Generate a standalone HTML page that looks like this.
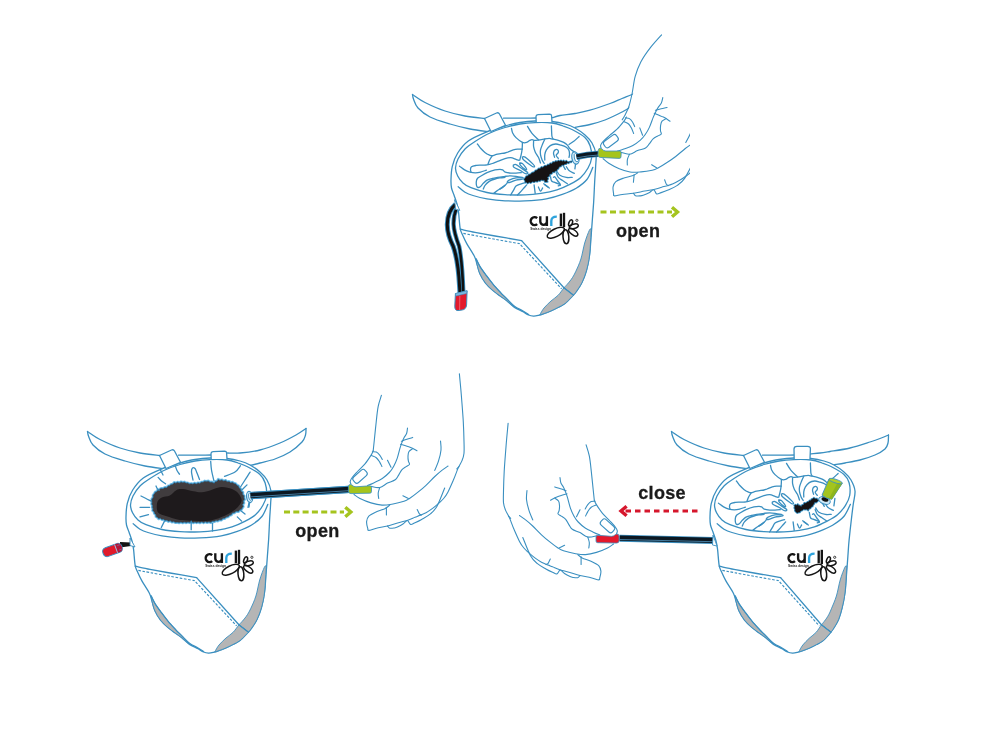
<!DOCTYPE html>
<html><head><meta charset="utf-8"><style>
*{margin:0;padding:0}
html,body{width:1000px;height:750px;background:#fff;overflow:hidden}
svg{display:block}
.l{fill:none;stroke:#3a8fc0;stroke-width:1.3;stroke-linecap:round;stroke-linejoin:round}
.lf{fill:#fff;stroke:#3a8fc0;stroke-width:1.3;stroke-linecap:round;stroke-linejoin:round}
.wf{fill:#fff;stroke:none}
.gp{fill:#b5b5b5;stroke:#3a8fc0;stroke-width:0.9;stroke-linejoin:round}
.hl .l, .hl, .l.hw{stroke-width:1.1}
.ld{fill:none;stroke:#3a8fc0;stroke-width:1.15;stroke-dasharray:2.6 1.6}
.logo{font-family:"Liberation Sans",sans-serif;font-size:14px;font-weight:bold;fill:#111;letter-spacing:-0.5px}
.sw{font-family:"Liberation Sans",sans-serif;font-size:3.3px;font-weight:bold;fill:#222}
.t{font-family:"Liberation Sans",sans-serif;font-size:18px;font-weight:bold;fill:#1a1a1a;letter-spacing:0.3px;stroke:#1a1a1a;stroke-width:0.3px}
svg{will-change:transform}

.blobg{fill:none;stroke:#7cc6ee;stroke-width:2.6;stroke-linejoin:round}
.blobo{fill:#403c3e;stroke:#2a7db0;stroke-width:0.8}
.blobi{fill:#1e1a1c;stroke:none}
.blobg2{fill:none;stroke:#7fc8ee;stroke-width:1.6;stroke-linejoin:round}
.blobk{fill:#161314;stroke:#1b6a9a;stroke-width:0.6;stroke-linejoin:miter}
</style></head><body>
<svg width="1000" height="750" viewBox="0 0 1000 750">
<defs>
<g id="belt"><path class="wf" d="M87.5,431.5 C89.6,432.8 94.6,436.8 100.0,439.5 C105.4,442.2 113.3,445.8 120.0,448.0 C126.7,450.2 133.4,451.8 140.0,453.0 C146.6,454.2 156.2,455.1 159.5,455.5 L165,469 165.0,469.0 C161.7,468.5 151.7,467.3 145.0,466.0 C138.3,464.7 131.7,463.0 125.0,461.0 C118.3,459.0 110.3,456.7 105.0,454.0 C99.7,451.3 95.8,448.0 93.0,445.0 C90.2,442.0 89.4,438.2 88.5,436.0 C87.6,433.8 87.7,432.2 87.5,431.5" />
<path class="l" d="M87.5,431.5 C89.6,432.8 94.6,436.8 100.0,439.5 C105.4,442.2 113.3,445.8 120.0,448.0 C126.7,450.2 133.4,451.8 140.0,453.0 C146.6,454.2 156.2,455.1 159.5,455.5" />
<path class="l" d="M87.5,431.5 C87.7,432.2 87.6,433.8 88.5,436.0 C89.4,438.2 90.2,442.0 93.0,445.0 C95.8,448.0 99.7,451.3 105.0,454.0 C110.3,456.7 118.3,459.0 125.0,461.0 C131.7,463.0 138.3,464.7 145.0,466.0 C151.7,467.3 161.7,468.5 165.0,469.0" />
<path class="l" d="M178.5,455.2 C181.2,455.2 189.6,455.2 195.0,455.2 C200.4,455.2 208.3,455.0 211.0,455.0" />
<rect x="165" y="452" width="60" height="8" fill="#fff"/>
<path class="l" d="M178.5,455.2 C181.2,455.2 189.6,455.2 195.0,455.2 C200.4,455.2 208.3,455.0 211.0,455.0" /></g>
<g id="body"><path class="lf" d="M126.5,525.0 C126.0,522.5 125.9,520.3 126.0,516.7 C126.1,513.1 126.2,507.8 127.3,503.3 C128.4,498.9 130.0,494.2 132.7,490.0 C135.4,485.8 138.6,481.4 143.3,478.0 C148.0,474.6 154.6,471.8 160.7,469.3 C166.8,466.8 174.3,464.6 180.0,463.0 C185.7,461.4 190.0,460.3 195.0,459.5 C200.0,458.7 204.7,458.2 210.0,458.0 C215.3,457.8 222.0,458.0 227.0,458.5 C232.0,459.0 236.2,459.9 240.0,461.0 C243.8,462.1 246.7,463.2 250.0,465.0 C253.3,466.8 257.2,469.5 260.0,472.0 C262.8,474.5 265.2,476.8 267.0,480.0 C268.8,483.2 270.4,487.0 271.0,491.0 C271.6,495.0 270.8,499.2 270.6,504.0 C270.4,508.8 269.9,514.0 269.6,520.0 C269.3,526.0 269.0,534.0 268.6,540.0 C268.2,546.0 267.8,550.7 267.4,556.0 C267.0,561.3 266.7,566.0 266.2,572.0 C265.7,578.0 265.4,586.1 264.6,592.0 C263.8,597.9 262.8,602.9 261.5,607.5 C260.2,612.1 258.6,616.1 257.0,619.5 C255.4,622.9 253.5,625.5 251.7,628.0 C249.9,630.5 248.2,632.3 246.3,634.4 C244.4,636.5 242.2,638.9 240.0,640.6 C237.8,642.3 235.3,643.3 233.0,644.5 C230.7,645.7 228.3,646.9 226.0,647.9 C223.7,648.9 221.1,649.9 219.0,650.6 C216.9,651.4 215.2,652.0 213.4,652.4 C211.7,652.8 210.1,653.2 208.5,653.1 C206.9,653.0 205.3,652.7 203.6,652.0 C201.8,651.3 200.3,650.1 198.0,648.8 C195.7,647.5 192.2,646.2 189.5,644.4 C186.8,642.6 184.3,639.8 182.0,637.9 C179.7,636.0 177.8,634.9 175.5,633.2 C173.2,631.5 170.5,629.8 168.0,627.6 C165.5,625.4 162.7,622.9 160.5,620.1 C158.3,617.3 156.3,613.9 154.9,610.8 C153.5,607.7 153.0,604.4 152.1,601.5 C151.2,598.6 151.2,596.9 149.5,593.5 C147.8,590.1 143.9,584.5 141.9,580.9 C139.9,577.3 138.7,574.5 137.6,572.0 C136.5,569.5 135.9,569.3 135.2,565.6 C134.5,561.9 134.1,553.7 133.6,549.6 C133.1,545.5 132.8,543.9 132.0,541.0 C131.2,538.1 129.9,534.7 129.0,532.0 C128.1,529.3 127.0,527.5 126.5,525.0Z" />
<path class="gp" d="M266.3,566.0 C266.0,570.3 265.4,585.1 264.6,592.0 C263.8,598.9 262.8,602.9 261.5,607.5 C260.2,612.1 258.6,616.1 257.0,619.5 C255.4,622.9 253.1,625.9 251.7,628.0 C250.3,630.1 249.0,631.5 248.5,632.2 L238.9,624.8 L238.9,624.8 C239.2,624.4 239.8,624.1 241.0,622.7 C242.2,621.3 244.7,618.6 246.3,616.3 C247.9,614.0 249.0,612.2 250.6,608.8 C252.2,605.4 254.4,600.8 255.9,596.0 C257.4,591.2 258.3,584.8 259.7,580.0 C261.1,575.2 263.3,569.5 264.4,567.2 C265.5,564.9 266.0,566.2 266.3,566.0Z" />
<path class="gp" d="M238.9,624.8 L248.5,632.2 L248.5,632.2 C248.1,632.6 247.7,633.0 246.3,634.4 C244.9,635.8 242.2,638.9 240.0,640.6 C237.8,642.3 235.3,643.3 233.0,644.5 C230.7,645.7 228.3,646.9 226.0,647.9 C223.7,648.9 220.9,650.0 219.0,650.6 C217.1,651.2 215.5,651.6 214.8,651.8 L214.8,651.8 C215.5,650.7 217.1,647.3 219.0,645.0 C220.9,642.7 223.7,640.1 226.0,638.0 C228.3,635.9 230.8,634.6 233.0,632.4 C235.2,630.2 237.9,626.1 238.9,624.8Z" />
<path class="gp" d="M151.2,595.9 C151.3,596.8 151.5,599.0 152.1,601.5 C152.7,604.0 153.5,607.7 154.9,610.8 C156.3,613.9 158.3,617.3 160.5,620.1 C162.7,622.9 165.5,625.4 168.0,627.6 C170.5,629.8 173.2,631.5 175.5,633.2 C177.8,634.9 179.7,636.0 182.0,637.9 C184.3,639.8 188.2,643.3 189.5,644.4 L189.5,644.4 C188.2,643.0 184.3,638.5 182.0,636.0 C179.7,633.5 177.8,632.0 175.5,629.5 C173.2,627.0 170.3,623.9 168.0,621.1 C165.7,618.3 163.7,615.7 161.5,612.7 C159.3,609.7 156.6,606.1 154.9,603.3 C153.2,600.5 151.8,597.1 151.2,595.9Z" />
<path class="l" d="M151.2,595.9 C151.8,597.1 153.2,600.5 154.9,603.3 C156.6,606.1 159.3,609.7 161.5,612.7 C163.7,615.7 165.7,618.3 168.0,621.1 C170.3,623.9 173.2,627.0 175.5,629.5 C177.8,632.0 179.7,633.7 182.0,636.0 C184.3,638.3 186.8,641.2 189.5,643.2 C192.2,645.2 195.7,646.6 198.0,648.0 C200.3,649.4 202.7,650.9 203.6,651.5" />
<path class="l" d="M238.9,624.8 L248.5,632.2" />
<path class="l" d="M135.2,566.2 C137.7,566.7 144.2,568.2 150.0,569.3 C155.8,570.4 162.2,571.6 170.0,573.0 C177.8,574.4 192.2,576.8 196.6,577.6" />
<path class="l" d="M196.6,577.6 L238.9,624.8" />
<path class="ld" d="M138.4,570.4 C140.3,570.8 144.7,571.6 150.0,572.6 C155.3,573.6 162.6,575.0 170.0,576.3 C177.4,577.6 190.3,579.9 194.4,580.6 L236.6,625.8" />
<path class="l" d="M130.5,505.0 C130.4,507.8 131.4,510.5 132.7,513.0 C133.9,515.5 135.8,517.9 138.0,519.9 C140.2,521.9 142.0,523.1 146.0,524.7 C150.0,526.3 156.3,528.3 162.0,529.5 C167.7,530.7 173.7,531.3 180.0,531.7 C186.3,532.1 194.0,532.0 200.0,531.8 C206.0,531.6 210.7,531.1 216.0,530.3 C221.3,529.5 227.2,528.3 232.0,526.8 C236.8,525.3 240.9,523.3 244.8,521.3 C248.7,519.3 252.5,517.4 255.5,514.7 C258.5,512.0 261.1,508.5 262.9,505.3 C264.7,502.1 266.1,499.3 266.5,495.5 C266.9,491.7 266.2,486.2 265.1,482.7 C264.0,479.1 262.6,476.8 259.7,474.2 C256.8,471.6 251.6,468.9 248.0,467.0 C244.4,465.1 241.5,464.2 238.0,463.0 C234.5,461.8 231.7,460.6 227.0,460.0 C222.3,459.4 215.3,459.4 210.0,459.6 C204.7,459.8 200.0,460.2 195.0,461.0 C190.0,461.8 185.0,463.0 180.0,464.5 C175.0,466.0 170.0,467.7 165.0,470.0 C160.0,472.3 154.2,475.8 150.0,478.5 C145.8,481.2 142.8,483.1 140.0,486.0 C137.2,488.9 134.6,492.8 133.0,496.0 C131.4,499.2 130.6,502.2 130.5,505.0Z" />
<path class="l" d="M133.2,523.7 C134.3,524.6 137.5,527.7 140.0,529.2 C142.5,530.7 144.3,531.4 148.0,532.5 C151.7,533.6 156.7,534.9 162.0,535.8 C167.3,536.7 173.7,537.5 180.0,537.8 C186.3,538.1 193.1,538.1 200.0,537.8 C206.9,537.5 215.1,536.9 221.3,535.8 C227.5,534.7 232.3,533.1 237.3,531.3 C242.3,529.5 247.1,527.7 251.2,525.2 C255.3,522.7 259.1,520.0 261.9,516.5 C264.7,513.0 266.8,506.4 267.8,504.4" /><g fill="none" stroke="#151515" stroke-width="2.35">
<path d="M212.2,555.1 A3.95,3.95 0 1 0 212.2,561.1"/>
<path d="M215.3,553.3 V558.6 A3.3,3.3 0 0 0 221.9,558.6 V553.3 M221.9,558.6 V563"/>
<path d="M226.3,563 V558 Q226.3,553.6 231.8,553.6" stroke="#2ea3dc"/>
<path d="M235.9,550.6 V563"/>
<path d="M239,549.8 V564"/>
</g>
<g fill="none" stroke="#151515" stroke-width="1.5">
<ellipse cx="230.8" cy="569.7" rx="9.5" ry="3.9" transform="rotate(-27 230.8 569.7)"/>
<ellipse cx="240.9" cy="573.8" rx="2.9" ry="7" transform="rotate(-5 240.9 573.8)"/>
<ellipse cx="248.2" cy="569.2" rx="5.4" ry="2.5" transform="rotate(38 248.2 569.2)"/>
<ellipse cx="248.8" cy="563.3" rx="4.6" ry="2.2" transform="rotate(-15 248.8 563.3)"/>
<ellipse cx="245.6" cy="560" rx="1.7" ry="3.3" transform="rotate(22 245.6 560)"/>
</g>
<circle cx="251.9" cy="557.3" r="1.1" fill="none" stroke="#151515" stroke-width="0.8"/>
<text x="205.2" y="567.3" class="sw">Swiss design</text></g>
<g id="body_br"><path class="lf" d="M126.5,525.0 C126.0,522.5 125.9,520.3 126.0,516.7 C126.1,513.1 126.2,507.8 127.3,503.3 C128.4,498.9 130.0,494.2 132.7,490.0 C135.4,485.8 138.6,481.4 143.3,478.0 C148.0,474.6 154.6,471.8 160.7,469.3 C166.8,466.8 174.3,464.6 180.0,463.0 C185.7,461.4 190.0,460.3 195.0,459.5 C200.0,458.7 204.7,458.2 210.0,458.0 C215.3,457.8 222.0,458.0 227.0,458.5 C232.0,459.0 236.2,459.9 240.0,461.0 C243.8,462.1 246.7,463.2 250.0,465.0 C253.3,466.8 257.2,469.5 260.0,472.0 C262.8,474.5 265.2,476.8 267.0,480.0 C268.8,483.2 270.6,487.0 271.0,491.0 C271.4,495.0 269.9,499.2 269.3,504.0 C268.6,508.8 268.0,514.0 267.3,520.0 C266.6,526.0 265.7,534.0 265.1,540.0 C264.5,546.0 264.3,550.7 263.9,556.0 C263.5,561.3 263.2,566.0 262.7,572.0 C262.2,578.0 261.9,586.1 261.1,592.0 C260.3,597.9 259.3,602.9 258.2,607.5 C257.1,612.1 255.9,616.1 254.6,619.5 C253.2,622.9 251.5,625.5 249.9,628.0 C248.3,630.5 246.8,632.3 245.1,634.4 C243.3,636.5 241.4,638.9 239.3,640.6 C237.2,642.3 234.9,643.3 232.6,644.5 C230.4,645.7 228.1,646.9 225.8,647.9 C223.5,648.9 221.0,649.9 218.9,650.6 C216.9,651.4 215.1,652.0 213.4,652.4 C211.7,652.8 210.1,653.2 208.5,653.1 C206.9,653.0 205.3,652.7 203.6,652.0 C201.8,651.3 200.3,650.1 198.0,648.8 C195.7,647.5 192.2,646.2 189.5,644.4 C186.8,642.6 184.3,639.8 182.0,637.9 C179.7,636.0 177.8,634.9 175.5,633.2 C173.2,631.5 170.5,629.8 168.0,627.6 C165.5,625.4 162.7,622.9 160.5,620.1 C158.3,617.3 156.3,613.9 154.9,610.8 C153.5,607.7 153.0,604.4 152.1,601.5 C151.2,598.6 151.2,596.9 149.5,593.5 C147.8,590.1 143.9,584.5 141.9,580.9 C139.9,577.3 138.7,574.5 137.6,572.0 C136.5,569.5 135.9,569.3 135.2,565.6 C134.5,561.9 134.1,553.7 133.6,549.6 C133.1,545.5 132.8,543.9 132.0,541.0 C131.2,538.1 129.9,534.7 129.0,532.0 C128.1,529.3 127.0,527.5 126.5,525.0Z" />
<path class="gp" d="M262.8,566.0 C262.5,570.3 261.9,585.1 261.1,592.0 C260.3,598.9 259.3,602.9 258.2,607.5 C257.1,612.1 255.9,616.1 254.6,619.5 C253.2,622.9 251.1,625.9 249.9,628.0 C248.6,630.1 247.5,631.5 247.0,632.2 L237.4,624.8 L237.4,624.8 C237.7,624.4 238.2,624.1 239.2,622.7 C240.3,621.3 242.5,618.6 243.8,616.3 C245.2,614.0 246.0,612.2 247.4,608.8 C248.8,605.4 250.9,600.8 252.4,596.0 C253.9,591.2 254.8,584.8 256.2,580.0 C257.6,575.2 259.8,569.5 260.9,567.2 C262.0,564.9 262.5,566.2 262.8,566.0Z" />
<path class="gp" d="M237.4,624.8 L247.0,632.2 L247.0,632.2 C246.7,632.6 246.3,633.0 245.1,634.4 C243.8,635.8 241.4,638.9 239.3,640.6 C237.2,642.3 234.9,643.3 232.6,644.5 C230.4,645.7 228.1,646.9 225.8,647.9 C223.5,648.9 220.8,650.0 218.9,650.6 C217.1,651.2 215.5,651.6 214.8,651.8 L214.8,651.8 C215.5,650.7 217.0,647.3 218.8,645.0 C220.6,642.7 223.3,640.1 225.5,638.0 C227.7,635.9 230.1,634.6 232.1,632.4 C234.0,630.2 236.5,626.1 237.4,624.8Z" />
<path class="gp" d="M151.2,595.9 C151.3,596.8 151.5,599.0 152.1,601.5 C152.7,604.0 153.5,607.7 154.9,610.8 C156.3,613.9 158.3,617.3 160.5,620.1 C162.7,622.9 165.5,625.4 168.0,627.6 C170.5,629.8 173.2,631.5 175.5,633.2 C177.8,634.9 179.7,636.0 182.0,637.9 C184.3,639.8 188.2,643.3 189.5,644.4 L189.5,644.4 C188.2,643.0 184.3,638.5 182.0,636.0 C179.7,633.5 177.8,632.0 175.5,629.5 C173.2,627.0 170.3,623.9 168.0,621.1 C165.7,618.3 163.7,615.7 161.5,612.7 C159.3,609.7 156.6,606.1 154.9,603.3 C153.2,600.5 151.8,597.1 151.2,595.9Z" />
<path class="l" d="M151.2,595.9 C151.8,597.1 153.2,600.5 154.9,603.3 C156.6,606.1 159.3,609.7 161.5,612.7 C163.7,615.7 165.7,618.3 168.0,621.1 C170.3,623.9 173.2,627.0 175.5,629.5 C177.8,632.0 179.7,633.7 182.0,636.0 C184.3,638.3 186.8,641.2 189.5,643.2 C192.2,645.2 195.7,646.6 198.0,648.0 C200.3,649.4 202.7,650.9 203.6,651.5" />
<path class="l" d="M237.4,624.8 L247.0,632.2" />
<path class="l" d="M135.2,566.2 C137.7,566.7 144.2,568.2 150.0,569.3 C155.8,570.4 162.2,571.6 170.0,573.0 C177.8,574.4 192.2,576.8 196.6,577.6" />
<path class="l" d="M196.6,577.6 L237.4,624.8" />
<path class="ld" d="M138.4,570.4 C140.3,570.8 144.7,571.6 150.0,572.6 C155.3,573.6 162.6,575.0 170.0,576.3 C177.4,577.6 190.3,579.9 194.4,580.6 L235.2,625.8" />
<path class="l" d="M130.5,505.0 C130.4,507.8 131.4,510.5 132.7,513.0 C133.9,515.5 135.8,517.9 138.0,519.9 C140.2,521.9 142.0,523.1 146.0,524.7 C150.0,526.3 156.3,528.3 162.0,529.5 C167.7,530.7 173.7,531.3 180.0,531.7 C186.3,532.1 194.1,532.0 200.0,531.8 C205.9,531.6 210.2,531.1 215.3,530.3 C220.3,529.5 225.8,528.3 230.4,526.8 C234.9,525.3 238.8,523.3 242.7,521.3 C246.6,519.3 250.4,517.4 253.5,514.7 C256.6,512.0 259.5,508.5 261.5,505.3 C263.5,502.1 265.1,499.3 265.7,495.5 C266.3,491.7 266.1,486.2 265.1,482.7 C264.1,479.1 262.6,476.8 259.7,474.2 C256.8,471.6 251.6,468.9 248.0,467.0 C244.4,465.1 241.5,464.2 238.0,463.0 C234.5,461.8 231.7,460.6 227.0,460.0 C222.3,459.4 215.3,459.4 210.0,459.6 C204.7,459.8 200.0,460.2 195.0,461.0 C190.0,461.8 185.0,463.0 180.0,464.5 C175.0,466.0 170.0,467.7 165.0,470.0 C160.0,472.3 154.2,475.8 150.0,478.5 C145.8,481.2 142.8,483.1 140.0,486.0 C137.2,488.9 134.6,492.8 133.0,496.0 C131.4,499.2 130.6,502.2 130.5,505.0Z" />
<path class="l" d="M133.2,523.7 C134.3,524.6 137.5,527.7 140.0,529.2 C142.5,530.7 144.3,531.4 148.0,532.5 C151.7,533.6 156.7,534.9 162.0,535.8 C167.3,536.7 173.7,537.5 180.0,537.8 C186.3,538.1 193.3,538.1 200.0,537.8 C206.7,537.5 214.3,536.9 220.1,535.8 C226.0,534.7 230.4,533.1 235.2,531.3 C239.9,529.5 244.5,527.7 248.6,525.2 C252.7,522.7 256.8,520.0 259.8,516.5 C262.8,513.0 265.3,506.4 266.4,504.4" /><g transform="translate(-1.2,0)"><g fill="none" stroke="#151515" stroke-width="2.35">
<path d="M212.2,555.1 A3.95,3.95 0 1 0 212.2,561.1"/>
<path d="M215.3,553.3 V558.6 A3.3,3.3 0 0 0 221.9,558.6 V553.3 M221.9,558.6 V563"/>
<path d="M226.3,563 V558 Q226.3,553.6 231.8,553.6" stroke="#2ea3dc"/>
<path d="M235.9,550.6 V563"/>
<path d="M239,549.8 V564"/>
</g>
<g fill="none" stroke="#151515" stroke-width="1.5">
<ellipse cx="230.8" cy="569.7" rx="9.5" ry="3.9" transform="rotate(-27 230.8 569.7)"/>
<ellipse cx="240.9" cy="573.8" rx="2.9" ry="7" transform="rotate(-5 240.9 573.8)"/>
<ellipse cx="248.2" cy="569.2" rx="5.4" ry="2.5" transform="rotate(38 248.2 569.2)"/>
<ellipse cx="248.8" cy="563.3" rx="4.6" ry="2.2" transform="rotate(-15 248.8 563.3)"/>
<ellipse cx="245.6" cy="560" rx="1.7" ry="3.3" transform="rotate(22 245.6 560)"/>
</g>
<circle cx="251.9" cy="557.3" r="1.1" fill="none" stroke="#151515" stroke-width="0.8"/>
<text x="205.2" y="567.3" class="sw">Swiss design</text></g></g>
<g id="loops"><path class="lf" d="M159.5,455.5 L171.5,450 Q173.5,449.2 174.5,451 L180.5,462.3 L166,468.5 Z" />
<path class="lf" d="M211.2,459 L211,453.5 Q211,451.8 213,451.6 L224.5,451.2 Q226.5,451.2 226.6,453 L227,459" /></g>
<g id="loops_br"><path class="lf" d="M159.5,455.5 L171.5,450 Q173.5,449.2 174.5,451 L180.5,462.3 L166,468.5 Z" />
<path class="lf" d="M210.2,459 L210,449 Q210,446.3 213,446.3 L223.5,446.3 Q226.5,446.3 226.4,449 L226,459" /></g>
<g id="rw_bl"><path class="wf" d="M227.5,453.0 C229.6,453.0 234.6,453.5 240.0,453.0 C245.4,452.5 253.3,451.7 260.0,450.0 C266.7,448.3 274.0,445.5 280.0,443.0 C286.0,440.5 291.7,437.4 296.0,435.0 C300.3,432.6 304.3,429.6 306.0,428.5 L306.0,428.5 C305.9,429.6 306.2,432.8 305.5,435.0 C304.8,437.2 304.6,439.2 302.0,442.0 C299.4,444.8 294.5,449.2 290.0,452.0 C285.5,454.8 280.0,457.2 275.0,459.0 C270.0,460.8 264.5,461.8 260.0,463.0 C255.5,464.2 250.0,465.5 248.0,466.0 L227.5,466.0Z" />
<path class="l" d="M227.5,453.0 C229.6,453.0 234.6,453.5 240.0,453.0 C245.4,452.5 253.3,451.7 260.0,450.0 C266.7,448.3 274.0,445.5 280.0,443.0 C286.0,440.5 291.7,437.4 296.0,435.0 C300.3,432.6 304.3,429.6 306.0,428.5" />
<path class="l" d="M306.0,428.5 C305.9,429.6 306.2,432.8 305.5,435.0 C304.8,437.2 304.6,439.2 302.0,442.0 C299.4,444.8 294.5,449.2 290.0,452.0 C285.5,454.8 280.0,457.2 275.0,459.0 C270.0,460.8 264.5,461.8 260.0,463.0 C255.5,464.2 250.0,465.5 248.0,466.0" /></g>
<g id="rw_br"><path class="wf" d="M226.0,454.0 C227.7,453.8 232.7,453.4 236.0,453.0 C239.3,452.6 241.0,452.3 246.0,451.5 C251.0,450.7 259.3,449.6 266.0,448.0 C272.7,446.4 281.0,443.6 286.0,442.0 C291.0,440.4 292.9,439.7 296.0,438.5 C299.1,437.3 303.1,435.6 304.5,435.0 L304.5,435.0 C304.4,436.3 304.6,440.7 304.0,443.0 C303.4,445.3 303.2,447.0 301.0,449.0 C298.8,451.0 295.2,453.2 291.0,455.0 C286.8,456.8 281.0,458.7 276.0,460.0 C271.0,461.3 265.3,462.2 261.0,463.0 C256.7,463.8 251.8,464.5 250.0,464.8 L226.0,466.0Z" />
<path class="l" d="M226.0,454.0 C227.7,453.8 232.7,453.4 236.0,453.0 C239.3,452.6 241.0,452.3 246.0,451.5 C251.0,450.7 259.3,449.6 266.0,448.0 C272.7,446.4 281.0,443.6 286.0,442.0 C291.0,440.4 292.9,439.7 296.0,438.5 C299.1,437.3 303.1,435.6 304.5,435.0" />
<path class="l" d="M304.5,435.0 C304.4,436.3 304.6,440.7 304.0,443.0 C303.4,445.3 303.2,447.0 301.0,449.0 C298.8,451.0 295.2,453.2 291.0,455.0 C286.8,456.8 281.0,458.7 276.0,460.0 C271.0,461.3 265.3,462.2 261.0,463.0 C256.7,463.8 251.8,464.5 250.0,464.8" /></g>
<g id="rw_top"><path class="wf" d="M227.5,454.7 C228.8,454.3 231.2,453.2 235.0,452.5 C238.8,451.8 245.0,451.4 250.0,450.5 C255.0,449.6 259.2,448.9 265.0,447.2 C270.8,445.5 279.7,442.4 285.0,440.5 C290.3,438.6 293.3,437.0 297.0,435.5 C300.7,434.0 304.0,432.9 307.0,431.5 C310.0,430.1 313.7,427.8 315.0,427.0 L315.0,427.0 C314.5,428.8 313.8,435.0 312.0,438.0 C310.2,441.0 307.2,442.8 304.0,445.0 C300.8,447.2 297.0,449.0 293.0,451.0 C289.0,453.0 284.7,455.2 280.0,457.0 C275.3,458.8 270.0,460.3 265.0,461.5 C260.0,462.7 252.5,463.8 250.0,464.3 L227.5,466.0Z" />
<path class="l" d="M227.5,454.7 C228.8,454.3 231.2,453.2 235.0,452.5 C238.8,451.8 245.0,451.4 250.0,450.5 C255.0,449.6 259.2,448.9 265.0,447.2 C270.8,445.5 279.7,442.4 285.0,440.5 C290.3,438.6 293.3,437.0 297.0,435.5 C300.7,434.0 304.0,432.9 307.0,431.5 C310.0,430.1 313.7,427.8 315.0,427.0" />
<path class="l" d="M315.0,427.0 C314.5,428.8 313.8,435.0 312.0,438.0 C310.2,441.0 307.2,442.8 304.0,445.0 C300.8,447.2 297.0,449.0 293.0,451.0 C289.0,453.0 284.7,455.2 280.0,457.0 C275.3,458.8 270.0,460.3 265.0,461.5 C260.0,462.7 252.5,463.8 250.0,464.3" /></g>
<g id="hand" class="hl"><path class="l" d="M373.2,450.8 C372.9,451.5 372.5,452.9 371.1,455.1 C369.7,457.3 367.2,461.2 365.0,463.8 C362.8,466.4 360.1,468.7 358.0,471.0 C355.9,473.3 353.5,475.8 352.2,477.5 C350.9,479.2 350.4,480.3 350.2,481.4 C350.0,482.5 350.8,483.6 350.9,484.0" />
<rect class="l" x="-7.8" y="-3.7" width="15.6" height="7.4" rx="2.6" transform="translate(360,476.3) rotate(-42)"/>
<path class="l" d="M372.4,451.7 C373.0,451.8 375.1,451.5 376.3,452.1 C377.5,452.7 378.7,453.9 379.7,455.1 C380.7,456.3 381.9,458.8 382.3,459.5" />
<path class="l" d="M371.5,455.6 C372.3,456.0 374.9,456.6 376.3,457.7 C377.7,458.8 378.8,460.7 379.7,462.1 C380.6,463.6 381.5,465.7 381.9,466.4" />
<path class="l" d="M387.5,460.3 L391.0,467.3" />
<path class="l" d="M367.6,485.5 C368.6,485.1 371.2,484.1 373.7,482.9 C376.1,481.7 379.7,480.2 382.3,478.5 C384.9,476.8 387.4,474.5 389.3,472.5 C391.2,470.5 392.3,468.7 393.6,466.4 C394.9,464.1 396.1,461.5 397.1,458.6 C398.1,455.7 399.0,451.6 399.7,449.1 C400.4,446.7 400.7,445.8 401.4,443.9 C402.1,442.0 403.1,439.5 404.0,437.8 C404.9,436.1 406.0,435.1 406.6,433.5 C407.2,431.9 407.4,428.9 407.5,428.0" />
<path class="l" d="M401.4,441.3 C402.2,441.0 404.1,440.1 406.0,439.5 C407.9,438.9 411.6,437.8 412.7,437.4" />
<path class="l" d="M400.5,444.3 C402.1,444.8 407.2,446.2 410.0,447.3 C412.8,448.4 415.8,450.2 417.0,450.8" />
<path class="l" d="M371.0,486.4 C372.5,486.6 377.1,488.1 379.8,487.5 C382.6,486.9 384.9,484.4 387.5,483.1 C390.1,481.8 393.4,481.1 395.2,479.8 C397.0,478.5 397.4,477.0 398.5,475.4 C399.6,473.8 400.5,471.4 401.8,469.9 C403.1,468.4 404.9,467.5 406.2,466.6 C407.5,465.7 409.1,465.3 409.5,464.4 C409.9,463.5 408.6,462.5 408.4,461.1 C408.1,459.7 407.9,457.6 408.0,456.0 C408.1,454.4 408.2,452.7 409.0,451.5 C409.8,450.3 412.1,449.1 412.7,448.6" />
<path class="l" d="M379.8,487.5 C379.5,488.4 378.4,491.2 378.2,493.0 C378.0,494.8 378.6,497.6 378.7,498.5" />
<path class="l" d="M354.0,494.5 C355.0,495.2 357.2,497.1 360.0,498.5 C362.8,499.9 367.3,501.8 371.0,502.9 C374.7,504.0 378.3,504.9 382.0,505.1 C385.7,505.3 389.3,504.6 393.0,504.0 C396.7,503.4 401.2,502.2 404.0,501.3 C406.8,500.4 407.1,500.1 409.5,498.5 C411.9,496.9 415.6,494.1 418.3,491.9 C421.1,489.7 423.2,487.9 426.0,485.3 C428.8,482.7 432.1,479.1 434.8,476.5 C437.6,473.9 440.3,471.6 442.5,469.9 C444.7,468.1 447.1,466.6 448.0,466.0" />
<path class="l" d="M402.9,495.8 L408.4,498.5" />
<path class="l" d="M440.5,441.0 C440.6,442.5 441.3,446.7 441.0,450.0 C440.7,453.3 439.7,457.2 438.6,460.6 C437.6,464.0 435.4,468.8 434.7,470.4" />
<path class="l" d="M459.4,373.9 C459.7,377.6 460.8,388.0 461.4,396.0 C462.0,404.0 462.9,414.4 463.3,422.0 C463.7,429.6 463.9,436.3 464.0,441.5 C464.1,446.7 464.3,450.0 464.0,453.2 C463.7,456.4 463.0,458.1 462.0,460.6 C461.0,463.1 459.4,465.2 458.0,468.4 C456.6,471.6 455.2,475.9 453.5,479.8 C451.8,483.7 449.6,488.8 448.0,491.9 C446.4,495.0 445.1,496.7 443.6,498.5 C442.1,500.3 441.0,501.2 439.2,502.9 C437.4,504.5 434.8,506.8 432.6,508.4 C430.4,510.0 428.2,511.6 426.0,512.8 C423.8,514.0 421.2,514.9 419.4,515.6 C417.6,516.3 416.8,516.5 415.0,517.2 C413.2,517.9 411.1,519.1 408.4,520.0 C405.6,520.9 402.0,521.7 398.5,522.7 C395.0,523.7 391.2,525.1 387.5,526.0 C383.8,526.9 379.6,527.5 376.5,528.2 C373.4,528.9 370.3,530.4 368.8,530.4 C367.3,530.4 368.1,529.7 367.7,528.2 C367.3,526.7 366.4,523.6 366.6,521.6 C366.8,519.6 367.2,517.8 368.8,516.1 C370.4,514.5 373.8,513.0 376.5,511.7 C379.2,510.4 383.1,509.5 385.3,508.4 C387.5,507.3 389.0,505.7 389.7,505.1" />
<path class="l" d="M386.4,507.3 L386.4,515.0" />
<path class="l" d="M387.5,526.0 C387.9,526.4 388.6,527.9 389.7,528.2 C390.8,528.5 392.7,528.2 394.0,528.0 C395.3,527.8 395.9,527.8 397.4,527.1 C398.9,526.4 401.4,525.1 403.0,524.0 C404.6,522.9 406.0,520.4 407.3,520.5 C408.6,520.6 409.3,524.0 410.6,524.4 C411.9,524.8 413.2,523.5 415.0,522.7 C416.8,521.9 419.0,520.9 421.6,519.4 C424.2,517.9 427.8,516.1 430.4,513.9 C433.0,511.7 434.6,510.5 437.0,506.2 C439.4,501.9 443.4,491.0 444.7,488.0" />
<path class="l" d="M417.2,509.5 C417.6,510.2 418.7,513.0 419.4,513.9 C420.1,514.8 421.2,514.8 421.6,515.0" />
<path class="l" d="M456.8,468.8 L459.0,466.6" /></g>
<path id="tog" d="M348.4,487 Q348.3,484.2 350.6,484.4 L352,485 Q353.5,486.8 356,486.8 L369.6,485.8 Q371.5,485.7 371.5,487.6 L371.5,491.6 Q371.5,493.2 369.8,493.2 L351,493.6 Q348.5,493.6 348.4,491 Z"/>
<clipPath id="topclip"><rect x="0" y="0" width="690" height="750"/></clipPath>
<g id="crumple"><path class="l" d="M477.4,144.0 C477.9,144.7 479.4,146.9 480.6,148.3 C481.9,149.7 483.4,151.3 484.9,152.5 C486.4,153.7 488.4,154.7 489.6,155.2 C490.8,155.7 491.0,155.9 492.3,155.7 C493.6,155.5 495.5,154.5 497.6,154.1 C499.7,153.7 503.3,153.3 505.0,153.0 C506.7,152.7 506.6,152.5 508.0,152.0 C509.4,151.5 511.7,150.4 513.3,149.9 C514.9,149.4 516.1,149.2 517.6,149.1 C519.1,149.0 521.6,149.1 522.4,149.1" />
<path class="l" d="M492.3,155.7 C491.9,156.4 490.3,158.6 489.6,160.0 C488.9,161.4 488.3,163.4 488.0,164.1" />
<path class="l" d="M459.5,166.2 C460.4,166.8 462.9,168.9 464.6,169.9 C466.3,170.9 468.1,171.6 469.9,172.1 C471.7,172.6 473.5,172.9 475.3,172.9 C477.1,172.9 478.8,172.6 480.6,172.1 C482.5,171.6 485.4,170.5 486.4,170.2" />
<path class="l" d="M471.0,172.1 C470.9,171.7 470.4,170.3 470.5,169.4 C470.6,168.5 470.5,167.4 471.5,166.7 C472.5,166.0 474.6,165.7 476.3,165.4 C478.0,165.1 479.9,165.2 481.7,165.1 C483.5,165.0 485.2,165.2 487.0,164.9 C488.8,164.6 490.5,164.1 492.3,163.5 C494.1,162.9 495.5,162.2 497.6,161.4 C499.7,160.6 502.8,159.2 505.0,158.6 C507.2,158.0 508.9,157.6 510.7,157.7 C512.5,157.8 514.7,158.9 516.0,159.3 C517.3,159.7 518.2,160.1 518.7,160.3" />
<path class="l" d="M521.3,172.6 C520.4,172.7 517.8,173.0 516.0,173.1 C514.2,173.2 512.5,173.3 510.7,173.1 C508.9,172.9 506.6,172.6 505.3,172.1 C504.0,171.6 503.6,170.3 502.7,169.9 C501.8,169.5 501.3,169.4 500.0,169.4 C498.7,169.4 497.2,169.4 495.0,169.9 C492.8,170.4 489.4,171.5 487.0,172.6 C484.6,173.7 482.2,175.3 480.6,176.3 C479.0,177.3 478.1,177.6 477.4,178.5 C476.7,179.4 476.4,180.5 476.3,181.7 C476.2,182.9 476.3,184.9 476.6,185.9 C476.9,186.9 477.2,187.4 477.9,187.5 C478.6,187.6 479.7,187.1 480.6,186.4 C481.5,185.7 482.2,184.4 483.3,183.3 C484.4,182.2 485.5,180.9 487.0,180.1 C488.5,179.3 490.5,178.9 492.3,178.5 C494.1,178.1 495.4,177.8 497.6,177.4 C499.8,177.0 503.1,176.6 505.3,176.3 C507.5,176.0 508.9,175.8 510.7,175.8 C512.5,175.8 514.0,176.0 516.0,176.3 C518.0,176.6 521.3,177.2 522.4,177.4" />
<path class="l" d="M483.3,189.1 C483.6,188.4 484.3,186.2 485.4,184.9 C486.4,183.6 488.0,182.1 489.6,181.1 C491.2,180.1 493.2,179.5 495.0,179.0 C496.8,178.5 498.6,178.2 500.3,177.9 C502.0,177.6 504.2,177.5 505.0,177.4" />
<path class="l" d="M511.5,128.5 C511.7,129.3 512.0,131.8 512.8,133.3 C513.5,134.8 514.4,136.1 516.0,137.6 C517.6,139.1 520.6,141.6 522.4,142.4 C524.2,143.2 525.5,142.8 526.7,142.4 C528.0,142.1 529.0,140.8 529.9,140.3 C530.8,139.9 531.3,139.7 532.0,139.7 C532.7,139.7 533.0,140.2 534.1,140.3 C535.2,140.4 536.6,140.2 538.4,140.0 C540.2,139.8 543.0,139.2 544.8,138.9 C546.6,138.6 547.9,138.4 549.3,138.4 C550.7,138.4 551.5,138.9 553.0,139.2 C554.5,139.5 556.5,139.8 558.3,140.3 C560.1,140.8 562.2,141.6 563.7,142.4 C565.2,143.2 566.4,144.1 567.4,145.1 C568.4,146.1 568.6,147.3 569.5,148.3 C570.4,149.3 571.8,150.3 572.7,150.9 C573.6,151.5 574.5,151.8 574.9,152.0" />
<path class="l" d="M527.5,126.4 C528.2,127.6 530.2,131.1 532.0,133.3 C533.8,135.5 537.3,138.6 538.4,139.7" />
<path class="l" d="M522.4,142.4 C522.4,143.6 522.3,147.4 522.1,149.3 C521.9,151.2 521.7,152.3 521.3,154.1 C520.9,155.9 520.0,159.3 519.7,160.3" />
<path class="l" d="M533.6,140.8 C533.6,141.8 533.3,144.8 533.6,146.7 C533.9,148.6 534.4,150.2 535.2,152.0 C536.0,153.8 537.5,155.5 538.4,157.3 C539.3,159.1 540.1,162.1 540.5,163.0" />
<path class="l" d="M544.8,139.2 C544.4,140.0 543.3,142.2 542.6,144.0 C541.9,145.8 540.9,148.1 540.5,149.9 C540.1,151.7 540.2,152.9 540.5,154.6 C540.8,156.3 541.5,158.5 542.1,160.0 C542.7,161.5 543.9,162.9 544.2,163.5" />
<path class="l" d="M544.8,160.0 C544.8,159.1 544.5,156.3 544.8,154.6 C545.1,152.9 545.5,151.4 546.4,149.9 C547.3,148.4 548.8,146.6 550.3,145.6 C551.8,144.6 553.9,144.1 555.7,144.0 C557.5,143.9 559.2,144.6 561.0,145.1 C562.8,145.6 565.0,146.3 566.3,147.2 C567.6,148.1 568.5,149.2 569.0,150.4 C569.5,151.6 569.5,153.4 569.5,154.6 C569.5,155.8 569.1,156.9 569.0,157.3" />
<path class="l" d="M554.6,157.3 C554.4,156.6 553.4,154.2 553.5,153.0 C553.6,151.8 554.4,150.4 555.1,149.9 C555.8,149.4 557.3,149.5 557.8,149.9 C558.3,150.3 558.6,151.6 558.3,152.5 C558.0,153.4 556.2,154.2 556.2,155.2 C556.2,156.2 557.9,157.9 558.3,158.4" />
<path class="l" d="M551.4,125.9 C551.5,127.6 551.6,133.9 551.9,136.0 C552.2,138.1 552.8,138.2 553.0,138.7" />
<path class="l" d="M579.1,136.5 C578.2,137.3 575.5,140.0 573.8,141.3 C572.1,142.6 569.8,144.0 569.0,144.5" />
<path class="l" d="M513.3,165.1 C513.8,165.0 514.5,164.0 516.0,164.6 C517.5,165.2 520.4,167.6 522.4,168.9 C524.4,170.2 527.2,171.8 527.7,172.6 C528.2,173.4 526.8,174.0 525.6,173.7 C524.4,173.3 522.2,171.6 520.3,170.5 C518.3,169.4 515.1,168.2 513.9,167.3 C512.7,166.4 513.4,165.5 513.3,165.1" />
<path class="l" d="M519.7,163.0 C520.2,163.1 521.4,162.8 522.4,163.5 C523.4,164.2 524.9,166.3 525.6,167.3 C526.3,168.3 526.8,169.1 526.7,169.4 C526.6,169.8 526.1,170.1 525.0,169.4 C523.9,168.7 521.2,166.2 520.3,165.1 C519.4,164.0 519.8,163.3 519.7,163.0" />
<path class="l" d="M522.4,157.1 C522.9,157.1 523.3,155.9 525.1,157.1 C526.9,158.3 531.4,162.5 533.0,164.1 C534.6,165.7 534.8,166.3 534.6,166.7 C534.4,167.0 533.9,167.3 532.0,166.2 C530.1,165.0 525.1,161.3 523.5,159.8 C521.9,158.3 522.6,157.6 522.4,157.1" />
<path class="l" d="M507.5,181.7 C507.8,181.4 507.7,180.7 509.1,180.1 C510.5,179.5 513.7,178.3 516.0,177.9 C518.3,177.5 521.6,177.7 522.9,177.9 C524.1,178.1 524.6,178.6 523.5,179.0 C522.4,179.4 518.1,179.6 516.0,180.1 C513.9,180.6 512.0,181.8 510.7,182.2 C509.4,182.6 508.5,182.8 508.0,182.7 C507.5,182.6 507.6,181.9 507.5,181.7" />
<path class="l" d="M500.0,189.1 C500.6,188.7 502.6,187.4 503.7,186.4 C504.8,185.4 506.3,184.1 506.9,183.3 C507.5,182.5 507.4,182.0 507.5,181.7" />
<path class="l" d="M510.7,195.0 C511.2,194.1 513.0,191.1 513.9,189.6 C514.8,188.1 514.8,186.9 516.0,185.9 C517.2,184.9 519.7,184.3 521.3,183.8 C522.9,183.3 524.9,182.9 525.6,182.7" />
<path class="l" d="M517.6,195.0 C518.5,194.0 521.4,190.8 522.9,189.1 C524.4,187.4 526.1,185.6 526.7,184.9" />
<path class="l" d="M534.1,184.9 L535.2,193.4" />
<path class="l" d="M538.4,187.0 C538.8,187.7 539.8,191.0 540.5,191.2 C541.2,191.4 542.2,188.5 542.6,188.0" />
<path class="l" d="M543.7,183.8 L548.0,187.0" />
<path class="l" d="M562.6,164.6 L565.3,169.4" />
<path class="l" d="M566.3,166.7 C566.8,167.3 567.7,169.4 569.0,170.5 C570.3,171.6 573.4,172.9 574.3,173.4" />
<path class="l" d="M556.7,171.0 C557.2,171.7 558.3,174.2 559.9,175.3 C561.5,176.4 564.2,177.1 566.3,177.4 C568.3,177.8 571.2,177.4 572.2,177.4" />
<path class="l" d="M556.2,172.6 C556.6,173.4 557.2,176.1 558.3,177.4 C559.4,178.7 561.1,179.5 562.6,180.6 C564.1,181.7 566.6,183.3 567.4,183.8" />
<path class="l" d="M553.5,177.4 C553.8,177.3 554.2,176.3 555.0,177.0 C555.8,177.7 557.4,180.4 558.3,181.7 C559.2,183.0 560.5,184.2 560.5,184.9 C560.5,185.6 558.7,185.7 558.3,185.9" />
<path class="l" d="M545.0,184.9 L549.3,188.0" />
<path class="l" d="M550.3,175.3 C550.5,176.2 550.8,179.4 551.4,180.6 C552.0,181.8 552.7,181.6 554.1,182.2 C555.5,182.8 558.9,184.0 559.9,184.3" />
<path class="l" d="M575.9,161.4 L574.9,168.9" />
<path class="l" d="M505.0,185.4 C504.0,186.1 500.8,188.2 499.0,189.5 C497.2,190.8 494.8,192.4 494.0,193.0" /></g>
</defs>
<use href="#rw_bl"/><use href="#belt"/>
<use href="#body"/>
<use href="#loops"/>
<path class="blobg" d="M151.6,501.0 L151.7,499.0 L153.1,497.3 L153.0,495.2 L154.2,493.8 L155.1,492.1 L156.8,491.5 L157.7,489.9 L159.3,489.4 L161.0,488.3 L163.0,488.4 L164.8,487.3 L166.9,487.4 L168.0,485.8 L169.8,485.6 L171.0,484.2 L172.9,484.0 L174.1,482.3 L175.9,483.0 L177.5,482.0 L179.3,482.8 L181.0,481.7 L182.5,482.3 L184.5,481.9 L186.0,482.9 L187.8,482.8 L189.4,483.8 L191.2,483.4 L192.9,483.9 L194.6,483.0 L196.4,483.7 L198.0,482.7 L199.9,483.2 L201.3,482.0 L203.1,482.0 L204.7,480.9 L206.2,481.2 L208.4,480.9 L210.0,482.1 L212.1,481.9 L214.2,483.1 L215.1,481.4 L217.1,481.1 L218.2,479.2 L219.9,480.2 L221.9,479.7 L223.7,480.8 L225.7,480.2 L227.2,481.6 L229.1,481.2 L230.5,482.5 L232.4,482.1 L233.8,483.1 L235.7,483.5 L236.8,485.1 L238.6,485.7 L239.2,487.7 L240.8,488.9 L241.1,491.0 L243.0,492.2 L242.8,494.3 L244.3,495.8 L244.2,497.6 L244.7,499.5 L243.5,501.1 L244.0,503.1 L242.7,504.6 L243.4,506.6 L242.4,507.9 L241.5,509.6 L239.6,510.2 L238.5,511.8 L236.1,511.5 L234.4,512.9 L232.3,513.2 L231.5,514.9 L229.7,515.4 L228.3,516.9 L226.3,517.2 L224.9,518.6 L222.9,518.8 L221.3,520.2 L219.5,520.1 L217.8,521.1 L215.9,520.8 L214.3,521.8 L212.4,521.5 L210.7,522.7 L208.9,522.0 L207.1,522.7 L205.3,521.9 L203.6,522.9 L201.8,521.9 L200.0,523.0 L198.3,522.2 L196.6,522.9 L194.9,522.2 L193.1,523.0 L191.4,521.9 L189.7,522.8 L188.0,522.2 L186.2,522.9 L184.4,522.3 L182.7,523.0 L180.9,522.2 L179.1,523.0 L177.4,522.5 L175.5,522.8 L173.8,521.8 L171.9,522.2 L170.3,520.9 L168.4,521.6 L166.9,520.5 L165.0,520.8 L163.7,519.5 L161.8,519.7 L160.5,518.4 L158.6,518.9 L157.7,517.7 L155.9,516.7 L155.8,514.8 L154.3,513.6 L154.0,511.8 L152.5,510.6 L152.9,508.8 L152.1,507.3 L152.4,505.6 L151.5,504.1 L151.9,502.4Z" />
<path class="blobo" d="M151.6,501.0 L151.7,499.0 L153.1,497.3 L153.0,495.2 L154.2,493.8 L155.1,492.1 L156.8,491.5 L157.7,489.9 L159.3,489.4 L161.0,488.3 L163.0,488.4 L164.8,487.3 L166.9,487.4 L168.0,485.8 L169.8,485.6 L171.0,484.2 L172.9,484.0 L174.1,482.3 L175.9,483.0 L177.5,482.0 L179.3,482.8 L181.0,481.7 L182.5,482.3 L184.5,481.9 L186.0,482.9 L187.8,482.8 L189.4,483.8 L191.2,483.4 L192.9,483.9 L194.6,483.0 L196.4,483.7 L198.0,482.7 L199.9,483.2 L201.3,482.0 L203.1,482.0 L204.7,480.9 L206.2,481.2 L208.4,480.9 L210.0,482.1 L212.1,481.9 L214.2,483.1 L215.1,481.4 L217.1,481.1 L218.2,479.2 L219.9,480.2 L221.9,479.7 L223.7,480.8 L225.7,480.2 L227.2,481.6 L229.1,481.2 L230.5,482.5 L232.4,482.1 L233.8,483.1 L235.7,483.5 L236.8,485.1 L238.6,485.7 L239.2,487.7 L240.8,488.9 L241.1,491.0 L243.0,492.2 L242.8,494.3 L244.3,495.8 L244.2,497.6 L244.7,499.5 L243.5,501.1 L244.0,503.1 L242.7,504.6 L243.4,506.6 L242.4,507.9 L241.5,509.6 L239.6,510.2 L238.5,511.8 L236.1,511.5 L234.4,512.9 L232.3,513.2 L231.5,514.9 L229.7,515.4 L228.3,516.9 L226.3,517.2 L224.9,518.6 L222.9,518.8 L221.3,520.2 L219.5,520.1 L217.8,521.1 L215.9,520.8 L214.3,521.8 L212.4,521.5 L210.7,522.7 L208.9,522.0 L207.1,522.7 L205.3,521.9 L203.6,522.9 L201.8,521.9 L200.0,523.0 L198.3,522.2 L196.6,522.9 L194.9,522.2 L193.1,523.0 L191.4,521.9 L189.7,522.8 L188.0,522.2 L186.2,522.9 L184.4,522.3 L182.7,523.0 L180.9,522.2 L179.1,523.0 L177.4,522.5 L175.5,522.8 L173.8,521.8 L171.9,522.2 L170.3,520.9 L168.4,521.6 L166.9,520.5 L165.0,520.8 L163.7,519.5 L161.8,519.7 L160.5,518.4 L158.6,518.9 L157.7,517.7 L155.9,516.7 L155.8,514.8 L154.3,513.6 L154.0,511.8 L152.5,510.6 L152.9,508.8 L152.1,507.3 L152.4,505.6 L151.5,504.1 L151.9,502.4Z" />
<path class="blobi" d="M157.1,503.0 C157.6,500.5 159.2,498.9 161.3,497.7 C163.4,496.4 167.4,496.8 169.9,495.5 C172.4,494.2 174.2,491.3 176.3,490.2 C178.4,489.1 179.9,488.9 182.7,489.1 C185.5,489.3 190.1,490.8 193.3,491.3 C196.5,491.8 199.0,492.5 201.9,492.3 C204.8,492.1 207.5,491.1 210.7,490.2 C213.9,489.3 217.8,487.2 221.3,487.0 C224.9,486.8 229.2,488.0 232.0,489.1 C234.8,490.2 236.8,491.6 238.4,493.4 C240.0,495.2 241.4,497.9 241.6,499.8 C241.8,501.8 240.6,503.5 239.5,505.1 C238.4,506.7 237.3,507.8 235.2,509.4 C233.1,511.0 229.9,513.1 226.7,514.7 C223.5,516.3 219.6,517.9 216.0,519.0 C212.4,520.1 210.0,520.9 205.3,521.1 C200.6,521.4 192.7,520.8 188.0,520.5 C183.3,520.2 180.9,520.2 177.3,519.5 C173.8,518.8 169.9,517.4 166.7,516.3 C163.5,515.1 159.7,514.8 158.1,512.6 C156.5,510.4 156.6,505.5 157.1,503.0Z" />
<path class="l" d="M158.1,477.4 C158.6,477.9 159.8,479.4 161.0,480.5 C162.2,481.6 164.8,483.2 165.6,483.8" />
<path class="l" d="M156.0,486.0 C156.2,486.5 157.0,488.3 157.5,489.0 C158.0,489.7 158.9,490.0 159.2,490.2" />
<path class="l" d="M141.0,496.0 C141.8,496.4 144.4,497.7 146.0,498.5 C147.6,499.3 149.9,500.5 150.7,500.9" />
<path class="l" d="M140.0,507.3 L149.6,507.3" />
<path class="l" d="M140.0,516.9 L148.5,514.7" />
<path class="l" d="M164.5,521.1 L161.3,527.5" />
<path class="l" d="M191.2,521.1 L191.2,529.7" />
<path class="l" d="M212.5,523.3 L212.5,531.0" />
<path class="l" d="M210.7,461.4 C210.8,462.8 211.0,466.8 211.5,470.0 C212.0,473.2 213.5,478.8 213.9,480.6" />
<path class="l" d="M240.5,465.7 C239.6,466.8 237.7,470.2 235.0,472.0 C232.3,473.8 226.2,475.6 224.5,476.3" />
<path class="l" d="M250.1,472.1 C249.2,473.4 246.6,477.5 245.0,480.0 C243.4,482.5 241.2,485.8 240.5,487.0" />
<path class="l" d="M247.0,484.9 L241.6,490.2" />
<path class="l" d="M249.0,503.0 L248.0,507.3" />
<path class="l" d="M240.5,510.5 L245.0,514.0" />
<path class="l" d="M237.3,516.9 L241.6,521.1" />
<path class="l" d="M175.2,465.7 C175.5,466.5 176.3,469.1 177.0,470.5 C177.7,471.9 179.1,473.6 179.5,474.2" />
<path class="l" d="M160.5,470.0 L163.0,475.0" />
<path class="l" d="M193.0,480.0 C192.8,478.7 191.6,474.0 191.5,472.0 C191.4,470.0 191.9,468.6 192.5,468.0 C193.1,467.4 194.2,467.7 195.0,468.5 C195.8,469.3 196.2,471.2 197.0,473.0 C197.8,474.8 199.1,478.4 199.5,479.5" />
<path d="M250,495.6 L349,489.4" stroke="#3a8fc0" stroke-width="7.2" fill="none"/>
<path d="M250,495.6 L349,489.4" stroke="#0c1822" stroke-width="5.4" fill="none"/>
<path d="M250,495.6 L349,489.4" transform="translate(0 1.3)" stroke="#4a86ad" stroke-width="0.9" fill="none"/>
<ellipse cx="249.6" cy="497" rx="3" ry="5.6" transform="rotate(-8 249.6 497)" fill="#d4ecf9" stroke="#3a8fc0" stroke-width="1.2"/>
<ellipse cx="250.3" cy="496.6" rx="1.7" ry="3.8" transform="rotate(-8 250.3 496.6)" fill="#fff" stroke="#3a8fc0" stroke-width="0.9"/>
<path d="M250.5,495.6 L349,489.4" stroke="#3a8fc0" stroke-width="7.2" fill="none"/>
<path d="M250.5,495.6 L349,489.4" stroke="#0c1822" stroke-width="5.4" fill="none"/>
<path d="M250.5,495.6 L349,489.4" transform="translate(0 1.3)" stroke="#4a86ad" stroke-width="0.9" fill="none"/>
<path class="l" d="M249.5,502.5 L249.0,507.0" />
<use href="#hand"/>
<path class="l hw" d="M381.4,395.4 C380.9,397.2 379.1,402.0 378.2,406.4 C377.3,410.8 376.8,416.4 376.2,422.0 C375.6,427.6 374.8,435.4 374.3,440.2 C373.8,445.0 373.4,449.0 373.2,450.8" />
<use href="#tog" fill="#a5c41c" stroke="#3a8fc0" stroke-width="0.8"/>
<path d="M120,542 L131,542.5 L131,546 L120,547.5Z" fill="#141414"/>
<path d="M130,538 L135,547 L130,545.5Z" fill="#fff" stroke="#3a8fc0" stroke-width="0.9"/>
<g transform="rotate(-20 112.5 550)"><rect x="102.5" y="545.4" width="20" height="9.2" rx="4" fill="#e01a2b" stroke="#3a8fc0" stroke-width="1"/><path d="M116.5,545.6 L118.5,545.6 Q122.3,545.6 122.3,549.8 Q122.3,554.4 118.5,554.4 L116.5,554.4Z" fill="#b3163a"/><line x1="116.3" y1="545.6" x2="116.3" y2="554.4" stroke="#9cc7e6" stroke-width="0.9"/><line x1="118.5" y1="547.5" x2="121.5" y2="547.5" stroke="#6d8fc0" stroke-width="0.5"/><line x1="118.5" y1="552.3" x2="121.5" y2="552.3" stroke="#6d8fc0" stroke-width="0.5"/></g>
<g transform="translate(325,-337)"><use href="#rw_top"/><use href="#belt"/><use href="#body"/><use href="#loops"/></g>
<use href="#crumple"/>
<path class="blobg2" d="M525.3,177.6 L526.2,176.0 L528.0,175.7 L528.6,174.3 L530.2,174.3 L531.9,172.5 L534.3,171.9 L535.2,170.3 L537.0,170.0 L538.3,168.4 L540.3,168.3 L541.2,166.8 L542.8,167.2 L544.9,165.5 L546.6,165.8 L547.6,164.4 L549.2,164.6 L550.1,163.1 L551.9,163.4 L552.8,161.8 L554.6,162.1 L555.7,160.7 L557.1,161.4 L558.3,160.2 L559.7,160.9 L561.0,160.1 L562.2,161.2 L563.7,160.3 L564.9,161.4 L566.4,160.5 L568.0,162.0 L569.9,161.5 L572.3,161.0 L571.4,162.4 L569.8,162.1 L568.9,163.5 L567.3,162.9 L566.4,164.3 L564.8,164.3 L563.7,165.4 L562.0,165.0 L561.2,166.4 L559.2,167.1 L558.5,169.1 L557.1,169.6 L556.8,171.3 L555.3,171.1 L554.4,172.4 L552.6,172.1 L551.9,174.0 L549.8,174.3 L549.6,176.3 L547.5,177.3 L548.5,178.9 L547.2,180.2 L547.9,181.9 L547.0,182.1 L544.7,182.1 L544.2,180.3 L542.7,180.4 L541.1,180.0 L540.1,181.3 L538.5,180.7 L537.4,182.0 L535.6,181.5 L534.1,182.4 L532.4,181.8 L531.0,183.2 L529.2,182.6 L527.6,183.7 L526.5,182.5 L524.8,182.8 L525.1,181.0 L523.9,179.4Z" />
<path class="blobk" d="M525.3,177.6 L526.2,176.0 L528.0,175.7 L528.6,174.3 L530.2,174.3 L531.9,172.5 L534.3,171.9 L535.2,170.3 L537.0,170.0 L538.3,168.4 L540.3,168.3 L541.2,166.8 L542.8,167.2 L544.9,165.5 L546.6,165.8 L547.6,164.4 L549.2,164.6 L550.1,163.1 L551.9,163.4 L552.8,161.8 L554.6,162.1 L555.7,160.7 L557.1,161.4 L558.3,160.2 L559.7,160.9 L561.0,160.1 L562.2,161.2 L563.7,160.3 L564.9,161.4 L566.4,160.5 L568.0,162.0 L569.9,161.5 L572.3,161.0 L571.4,162.4 L569.8,162.1 L568.9,163.5 L567.3,162.9 L566.4,164.3 L564.8,164.3 L563.7,165.4 L562.0,165.0 L561.2,166.4 L559.2,167.1 L558.5,169.1 L557.1,169.6 L556.8,171.3 L555.3,171.1 L554.4,172.4 L552.6,172.1 L551.9,174.0 L549.8,174.3 L549.6,176.3 L547.5,177.3 L548.5,178.9 L547.2,180.2 L547.9,181.9 L547.0,182.1 L544.7,182.1 L544.2,180.3 L542.7,180.4 L541.1,180.0 L540.1,181.3 L538.5,180.7 L537.4,182.0 L535.6,181.5 L534.1,182.4 L532.4,181.8 L531.0,183.2 L529.2,182.6 L527.6,183.7 L526.5,182.5 L524.8,182.8 L525.1,181.0 L523.9,179.4Z" />
<ellipse cx="575.4" cy="158" rx="3.5" ry="6.2" transform="rotate(-12 575.4 158)" fill="#d4ecf9" stroke="#3a8fc0" stroke-width="1.2"/>
<ellipse cx="576.3" cy="157.6" rx="2" ry="4.4" transform="rotate(-12 576.3 157.6)" fill="#fff" stroke="#3a8fc0" stroke-width="0.9"/>
<path d="M576.5,156.8 Q587,154.6 598.5,153.9" stroke="#3a8fc0" stroke-width="6.4" fill="none"/>
<path d="M576.5,156.8 Q587,154.6 598.5,153.9" stroke="#0c1822" stroke-width="4.6" fill="none"/>
<path d="M576.5,156.8 Q587,154.6 598.5,153.9" transform="translate(0 1.1)" stroke="#4a86ad" stroke-width="0.9" fill="none"/>
<path d="M455.4,204.5 C450,209 447.5,215 447.3,224.3 C447.2,232 450,240 453.2,246.3 C456,254 458.5,265 459.6,287 L460,293" stroke="#3a8fc0" stroke-width="5" fill="none"/>
<path d="M456.1,209.7 C454.2,214 453.5,219 453.6,224.3 C453.8,231 456,238 459.1,246.3 C461,255 462.5,270 463.3,293" stroke="#3a8fc0" stroke-width="4.4" fill="none"/>
<path d="M455.4,204.5 C450,209 447.5,215 447.3,224.3 C447.2,232 450,240 453.2,246.3 C456,254 458.5,265 459.6,287 L460,293" stroke="#111" stroke-width="3" fill="none"/>
<path d="M456.1,209.7 C454.2,214 453.5,219 453.6,224.3 C453.8,231 456,238 459.1,246.3 C461,255 462.5,270 463.3,293" stroke="#111" stroke-width="2.6" fill="none"/>
<path d="M454.7,199.6 L459.8,210.4 L455.5,209Z" fill="#fff" stroke="#3a8fc0" stroke-width="0.9"/>
<path d="M455.4,293.6 L467.1,290.8 L466.6,305 Q466,309.6 462,310 L458,310.6 Q454.6,310.8 454.8,306 Z" fill="#e3192c" stroke="#3a8fc0" stroke-width="1"/>
<path d="M455.4,293.6 L467.1,290.8 L466.6,293.5 L456,296Z" fill="#7db9e0" stroke="#3a8fc0" stroke-width="0.6"/>
<line x1="459.8" y1="296" x2="459.6" y2="310" stroke="#f27b86" stroke-width="0.7"/>
<path d="M661.6,34.8 C655,42 645,52 640.8,62 C637,70 635.5,78 634.5,86 C633,96 630,106 626.4,116.4 L615,131 L620,170 L700,200 L700,30 Z" fill="#fff"/>
<g clip-path="url(#topclip)"><g transform="translate(249.7,-336.3) rotate(5.5 348.3 489)"><use href="#hand"/></g></g>
<path class="l hw" d="M661.6,34.8 C659.7,36.9 653.9,43.1 650.4,47.6 C646.9,52.1 643.3,57.2 640.8,62.0 C638.3,66.8 636.7,71.1 635.2,76.4 C633.7,81.7 633.1,88.9 632.0,94.0 C630.9,99.1 630.0,103.1 628.8,106.8 C627.5,110.5 625.6,113.8 624.5,116.0 C623.4,118.2 622.6,119.2 622.2,119.8" />
<g transform="translate(249.7,-336.3) rotate(4 348.3 489)"><use href="#tog" fill="#a5c41c" stroke="#3a8fc0" stroke-width="0.8"/></g>
<g transform="translate(584,0)"><use href="#rw_br"/><use href="#belt"/><use href="#body_br"/><use href="#loops_br"/></g>
<g transform="translate(259,337)"><use href="#crumple"/></g>
<path class="blobg2" d="M794.1,505.6 L795.1,504.5 L796.6,505.0 L797.9,503.8 L798.5,505.2 L800.0,505.2 L801.1,506.4 L801.8,504.9 L803.5,504.5 L804.0,502.7 L805.9,503.0 L807.2,501.7 L808.6,501.6 L809.3,500.3 L810.8,500.2 L811.4,498.9 L812.8,498.6 L813.8,497.5 L815.2,498.6 L817.1,498.4 L817.8,499.7 L819.3,499.9 L817.8,501.4 L816.5,502.6 L814.4,502.7 L814.3,504.2 L813.2,505.0 L812.9,506.5 L811.4,507.0 L810.7,508.4 L809.0,509.0 L808.3,510.8 L806.9,509.6 L805.3,509.7 L803.4,509.5 L802.2,510.7 L800.7,511.1 L800.1,512.5 L798.9,512.6 L797.1,513.2 L796.2,512.4 L794.8,511.1 L794.9,509.4 L794.1,508.0 L794.5,506.5Z" />
<path class="blobk" d="M794.1,505.6 L795.1,504.5 L796.6,505.0 L797.9,503.8 L798.5,505.2 L800.0,505.2 L801.1,506.4 L801.8,504.9 L803.5,504.5 L804.0,502.7 L805.9,503.0 L807.2,501.7 L808.6,501.6 L809.3,500.3 L810.8,500.2 L811.4,498.9 L812.8,498.6 L813.8,497.5 L815.2,498.6 L817.1,498.4 L817.8,499.7 L819.3,499.9 L817.8,501.4 L816.5,502.6 L814.4,502.7 L814.3,504.2 L813.2,505.0 L812.9,506.5 L811.4,507.0 L810.7,508.4 L809.0,509.0 L808.3,510.8 L806.9,509.6 L805.3,509.7 L803.4,509.5 L802.2,510.7 L800.7,511.1 L800.1,512.5 L798.9,512.6 L797.1,513.2 L796.2,512.4 L794.8,511.1 L794.9,509.4 L794.1,508.0 L794.5,506.5Z" />
<ellipse cx="824.5" cy="500.5" rx="6" ry="3.5" transform="rotate(20 824.5 500.5)" fill="#cde8f7" stroke="#3a8fc0" stroke-width="1"/>
<ellipse cx="825" cy="499.5" rx="3.6" ry="2" transform="rotate(20 825 499.5)" fill="#111"/>
<path d="M829,479 L842.3,483.2 L831.8,499.3 Q826,499 822,495.1 Z" fill="#a3c41e" stroke="#3a8fc0" stroke-width="0.9"/>
<path d="M838,482 L842.3,483.2 L831.8,499.3 L829,498.5 Z" fill="#8db51d"/>
<ellipse cx="835.6" cy="481.1" rx="7" ry="1.8" transform="rotate(18 835.6 481.1)" fill="#b2cf2a" stroke="#3a8fc0" stroke-width="0.8"/>
<path d="M713.4,540.4 L619.5,538.2" stroke="#3a8fc0" stroke-width="7.0" fill="none"/>
<path d="M713.4,540.4 L619.5,538.2" stroke="#0c1822" stroke-width="5.2" fill="none"/>
<path d="M713.4,540.4 L619.5,538.2" transform="translate(0 1.3)" stroke="#4a86ad" stroke-width="0.9" fill="none"/>
<path d="M713,535 L717,546 L712.5,545Z" fill="#fff" stroke="#3a8fc0" stroke-width="0.9"/>
<g transform="translate(967.5,49.5) scale(-1,1)"><use href="#hand"/>
<path class="l hw" d="M381.4,395.4 C380.9,397.2 379.1,402.0 378.2,406.4 C377.3,410.8 376.8,416.4 376.2,422.0 C375.6,427.6 374.8,435.4 374.3,440.2 C373.8,445.0 373.4,449.0 373.2,450.8" />
<use href="#tog" fill="#e3192c" stroke="#3a8fc0" stroke-width="0.8"/></g>
<line x1="600.5" y1="212" x2="672" y2="212" stroke="#a5c41e" stroke-width="3.2" stroke-dasharray="6 3.5"/>
<path d="M672,207.2 L677.5,212 L672,216.8" fill="none" stroke="#a5c41e" stroke-width="3.4"/>
<text x="616" y="237.2" class="t">open</text>
<line x1="284" y1="512" x2="344" y2="512" stroke="#a5c41e" stroke-width="3.2" stroke-dasharray="6 3.3"/>
<path d="M345.3,507.2 L350.8,512 L345.3,516.8" fill="none" stroke="#a5c41e" stroke-width="3.4"/>
<text x="295.3" y="537" class="t">open</text>
<line x1="697.5" y1="511" x2="624.5" y2="511" stroke="#d6162c" stroke-width="3.2" stroke-dasharray="5.5 4"/>
<path d="M626.6,506.2 L621,511 L626.6,515.8" fill="none" stroke="#d6162c" stroke-width="3.4"/>
<text x="638.3" y="499" class="t">close</text>
</svg>
</body></html>
